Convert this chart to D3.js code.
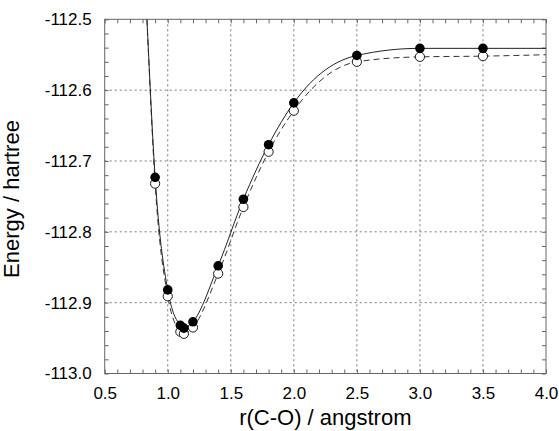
<!DOCTYPE html>
<html>
<head>
<meta charset="utf-8">
<script src="https://cdn.jsdelivr.net/npm/d3@7"></script>
<style>
  body { margin: 0; background: #fff; }
  text { font-family: "Liberation Sans", Arial, sans-serif; fill: #000; }
</style>
</head>
<body>
<div id="chart"></div>
<script>
// bond lengths (angstrom) of the computed points
const rValues = [0.9, 1.0, 1.1, 1.128, 1.2, 1.4, 1.6, 1.8, 2.0, 2.5, 3.0, 3.5];
// filled circles (solid fit)
const filledEnergy = [-112.723, -112.882, -112.932, -112.936, -112.927, -112.848,
                      -112.754, -112.677, -112.618, -112.551, -112.541, -112.541];
// open circles (dashed fit)
const openEnergy = [-112.732, -112.891, -112.941, -112.944, -112.935, -112.859,
                    -112.765, -112.687, -112.629, -112.560, -112.553, -112.552];
// where the fitted curves leave the frame
const curveStartR = 0.835, solidStart = -112.5, dashedStart = -112.5;
const curveEndR = 4.0, solidEnd = -112.541, dashedEnd = -112.550;

const xTicks = [0.5, 1.0, 1.5, 2.0, 2.5, 3.0, 3.5, 4.0];
const yTicks = [-112.5, -112.6, -112.7, -112.8, -112.9, -113.0];

const W = 559, H = 431;
const margin = {top: 19.3, right: 13, bottom: 57.5, left: 104.7};
const width = W - margin.left - margin.right;
const height = H - margin.top - margin.bottom;

const x = d3.scaleLinear().domain([0.5, 4.0]).range([0, width]);
const y = d3.scaleLinear().domain([-113.0, -112.5]).range([height, 0]);

const svg = d3.select('#chart').append('svg')
    .attr('width', W).attr('height', H);
const g = svg.append('g')
    .attr('transform', `translate(${margin.left},${margin.top})`);

g.append('clipPath').attr('id', 'clip')
  .append('rect').attr('width', width).attr('height', height);

// dotted grid
const gridColor = '#777';
g.selectAll('.gx').data(xTicks.slice(1, -1)).enter().append('line')
    .attr('x1', d => x(d)).attr('x2', d => x(d))
    .attr('y1', 0).attr('y2', height)
    .attr('stroke', gridColor).attr('stroke-dasharray', '2,3');
g.selectAll('.gy').data(yTicks.slice(1, -1)).enter().append('line')
    .attr('y1', d => y(d)).attr('y2', d => y(d))
    .attr('x1', 0).attr('x2', width)
    .attr('stroke', gridColor).attr('stroke-dasharray', '2,3');

// minor ticks all round, pointing in
const xMinor = d3.range(5, 41).map(i => i / 10);
const yMinor = d3.range(0, 26).map(i => -113.0 + i * 0.02);
function styleAxis(sel) {
  sel.select('.domain').remove();
  sel.selectAll('line').attr('stroke', '#666');
  sel.selectAll('text').remove();
}
g.append('g').attr('transform', `translate(0,${height})`)
  .call(d3.axisBottom(x).tickValues(xMinor).tickSize(-4)).call(styleAxis);
g.append('g')
  .call(d3.axisTop(x).tickValues(xMinor).tickSize(-4)).call(styleAxis);
g.append('g')
  .call(d3.axisLeft(y).tickValues(yMinor).tickSize(-4)).call(styleAxis);
g.append('g').attr('transform', `translate(${width},0)`)
  .call(d3.axisRight(y).tickValues(yMinor).tickSize(-4)).call(styleAxis);

// tick labels
const xAxis = g.append('g').attr('transform', `translate(0,${height})`)
  .call(d3.axisBottom(x).tickValues(xTicks).tickSize(0).tickPadding(13)
        .tickFormat(d => d.toFixed(1)));
xAxis.select('.domain').remove();
xAxis.selectAll('text').style('font-size', '17px')
  .style('font-family', '"Liberation Sans", Arial, sans-serif');

const yAxis = g.append('g')
  .call(d3.axisLeft(y).tickValues(yTicks).tickSize(0).tickPadding(13)
        .tickFormat(d => d.toFixed(1)));
yAxis.select('.domain').remove();
yAxis.selectAll('text').style('font-size', '17px')
  .style('font-family', '"Liberation Sans", Arial, sans-serif');

// frame
g.append('rect').attr('width', width).attr('height', height)
  .attr('fill', 'none').attr('stroke', '#666').attr('stroke-width', 1);

// curves
const solidData = [[curveStartR, solidStart]]
  .concat(rValues.map((r, i) => [r, filledEnergy[i]]))
  .concat([[curveEndR, solidEnd]]);
const dashedData = [[curveStartR, dashedStart]]
  .concat(rValues.map((r, i) => [r, openEnergy[i]]))
  .concat([[curveEndR, dashedEnd]]);

const line = d3.line()
  .x(d => x(d[0])).y(d => y(d[1]))
  .curve(d3.curveMonotoneX);

const plot = g.append('g').attr('clip-path', 'url(#clip)');
plot.append('path').datum(dashedData).attr('d', line)
  .attr('fill', 'none').attr('stroke', '#333').attr('stroke-width', 1)
  .attr('stroke-dasharray', '6,4');
plot.append('path').datum(solidData).attr('d', line)
  .attr('fill', 'none').attr('stroke', '#222').attr('stroke-width', 1);

// points
g.selectAll('.open').data(rValues).enter().append('circle')
  .attr('cx', d => x(d)).attr('cy', (d, i) => y(openEnergy[i]))
  .attr('r', 4.6).attr('fill', '#fff').attr('stroke', '#000').attr('stroke-width', 0.9);
g.selectAll('.filled').data(rValues).enter().append('circle')
  .attr('cx', d => x(d)).attr('cy', (d, i) => y(filledEnergy[i]))
  .attr('r', 4.8).attr('fill', '#000');

// axis titles
svg.append('text')
  .attr('x', margin.left + x(2.25)).attr('y', 425)
  .attr('text-anchor', 'middle').style('font-size', '22px')
  .text('r(C-O) / angstrom');
svg.append('text')
  .attr('transform', 'translate(19,199) rotate(-90)')
  .attr('text-anchor', 'middle').style('font-size', '22px')
  .text('Energy / hartree');
</script>
</body>
</html>
